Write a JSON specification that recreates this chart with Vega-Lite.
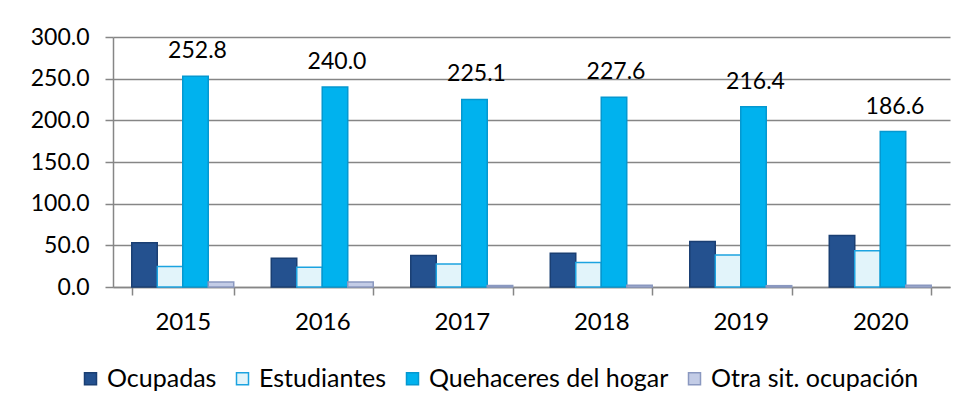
{
  "$schema": "https://vega.github.io/schema/vega-lite/v6.json",
  "width": 837,
  "height": 250,
  "padding": {"left": 30, "top": 26, "right": 19, "bottom": 5},
  "background": "white",
  "config": {"font": "Lato", "view": {"stroke": null}},
  "data": {
    "values": [
      {"anio": "2015", "serie": "Ocupadas", "valor": 53.0},
      {"anio": "2015", "serie": "Estudiantes", "valor": 24.5},
      {"anio": "2015", "serie": "Quehaceres del hogar", "valor": 252.8},
      {"anio": "2015", "serie": "Otra sit. ocupación", "valor": 6.0},
      {"anio": "2016", "serie": "Ocupadas", "valor": 34.5},
      {"anio": "2016", "serie": "Estudiantes", "valor": 23.7},
      {"anio": "2016", "serie": "Quehaceres del hogar", "valor": 240.0},
      {"anio": "2016", "serie": "Otra sit. ocupación", "valor": 6.0},
      {"anio": "2017", "serie": "Ocupadas", "valor": 37.7},
      {"anio": "2017", "serie": "Estudiantes", "valor": 27.7},
      {"anio": "2017", "serie": "Quehaceres del hogar", "valor": 225.1},
      {"anio": "2017", "serie": "Otra sit. ocupación", "valor": 1.8},
      {"anio": "2018", "serie": "Ocupadas", "valor": 40.6},
      {"anio": "2018", "serie": "Estudiantes", "valor": 29.3},
      {"anio": "2018", "serie": "Quehaceres del hogar", "valor": 227.6},
      {"anio": "2018", "serie": "Otra sit. ocupación", "valor": 2.0},
      {"anio": "2019", "serie": "Ocupadas", "valor": 54.6},
      {"anio": "2019", "serie": "Estudiantes", "valor": 38.5},
      {"anio": "2019", "serie": "Quehaceres del hogar", "valor": 216.4},
      {"anio": "2019", "serie": "Otra sit. ocupación", "valor": 1.6},
      {"anio": "2020", "serie": "Ocupadas", "valor": 61.8},
      {"anio": "2020", "serie": "Estudiantes", "valor": 43.4},
      {"anio": "2020", "serie": "Quehaceres del hogar", "valor": 186.6},
      {"anio": "2020", "serie": "Otra sit. ocupación", "valor": 2.0}
    ]
  },
  "encoding": {
    "x": {
      "field": "anio",
      "type": "nominal",
      "scale": {"paddingInner": 0.269, "paddingOuter": 0.1345},
      "axis": {
        "title": null,
        "labelAngle": 0,
        "labelFontSize": 24,
        "labelColor": "#000000",
        "labelPadding": 15,
        "domainColor": "#868686",
        "domainWidth": 1.5,
        "tickColor": "#868686",
        "tickWidth": 1.5,
        "tickSize": 8,
        "tickBand": "extent"
      }
    },
    "xOffset": {
      "field": "serie",
      "type": "nominal",
      "sort": ["Ocupadas", "Estudiantes", "Quehaceres del hogar", "Otra sit. ocupación"],
      "scale": {"paddingInner": 0, "paddingOuter": 0}
    },
    "y": {
      "field": "valor",
      "type": "quantitative",
      "scale": {"domain": [0, 300]},
      "axis": {
        "title": null,
        "values": [0, 50, 100, 150, 200, 250, 300],
        "format": ".1f",
        "labelFontSize": 23,
        "labelColor": "#000000",
        "labelPadding": 16,
        "grid": true,
        "gridColor": "#868686",
        "gridWidth": 1.5,
        "domainColor": "#868686",
        "domainWidth": 1.5,
        "tickColor": "#868686",
        "tickWidth": 1.5,
        "tickSize": 8
      }
    }
  },
  "layer": [
    {
      "mark": {"type": "bar", "strokeWidth": 1.5},
      "encoding": {
        "fill": {
          "field": "serie",
          "type": "nominal",
          "scale": {
            "domain": ["Ocupadas", "Estudiantes", "Quehaceres del hogar", "Otra sit. ocupación"],
            "range": ["#24518F", "#E2F4FA", "#00B2EE", "#C3CCE6"]
          },
          "legend": {
            "title": null,
            "orient": "none",
            "legendX": -35,
            "legendY": 329,
            "direction": "horizontal",
            "symbolType": "square",
            "symbolSize": 144,
            "symbolStrokeWidth": 1.5,
            "labelFontSize": 25,
            "labelLimit": 500,
            "labelColor": "#000000",
            "labelOffset": 4,
            "columnPadding": 13
          }
        },
        "stroke": {
          "field": "serie",
          "type": "nominal",
          "scale": {
            "domain": ["Ocupadas", "Estudiantes", "Quehaceres del hogar", "Otra sit. ocupación"],
            "range": ["#1A3F73", "#1CA3E0", "#0598D0", "#8A98C0"]
          },
          "legend": {
            "title": null,
            "orient": "none",
            "legendX": -35,
            "legendY": 329,
            "direction": "horizontal",
            "symbolType": "square",
            "symbolSize": 144,
            "symbolStrokeWidth": 1.5,
            "labelFontSize": 25,
            "labelLimit": 500,
            "labelColor": "#000000",
            "labelOffset": 4,
            "columnPadding": 13
          }
        }
      }
    },
    {
      "transform": [{"filter": "datum.serie === 'Quehaceres del hogar'"}],
      "mark": {"type": "text", "dy": -18, "dx": 2, "baseline": "alphabetic", "fontSize": 23, "color": "#000000"},
      "encoding": {
        "text": {"field": "valor", "type": "quantitative", "format": ".1f"}
      }
    }
  ]
}
